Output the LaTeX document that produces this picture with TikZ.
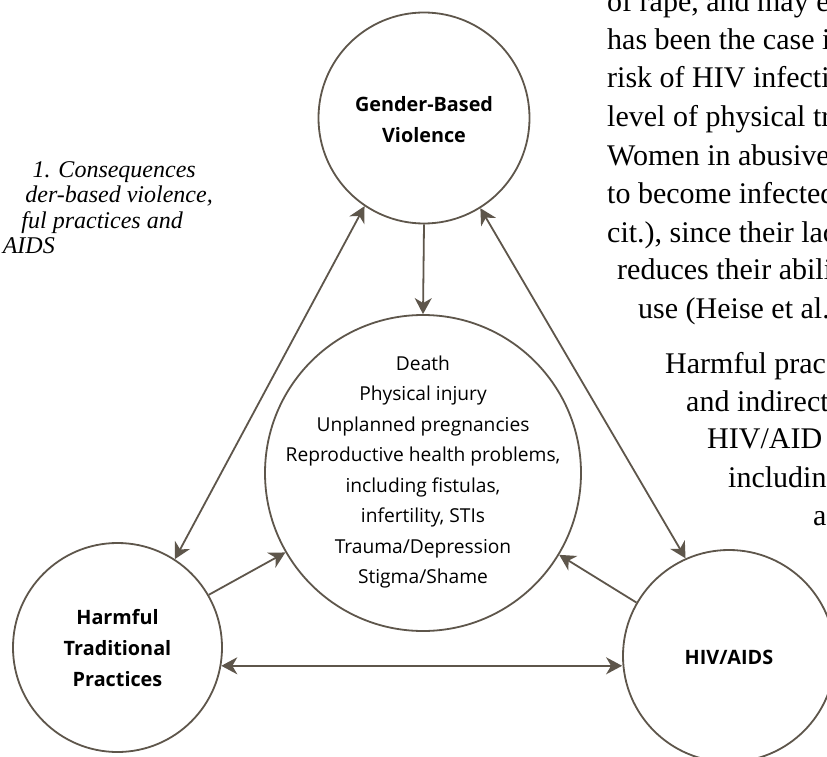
\documentclass[tikz,border=0pt]{standalone}
\usepackage{fontspec}
\setmainfont{Liberation Serif}
\newfontfamily\diag{Open Sans}
\usetikzlibrary{arrows.meta}
\definecolor{lc}{HTML}{5E564B}
\tikzset{
  bubble/.style={circle, draw=lc, line width=1.8pt, inner sep=0pt, align=center},
  lab/.style={font=\diag\bfseries\fontsize{19.8}{31}\selectfont, align=center},
  conn/.style={draw=lc, line width=1.8pt, -{Stealth[length=16pt,width=17pt,inset=5pt]}},
  bconn/.style={draw=lc, line width=1.8pt, {Stealth[length=16pt,width=17pt,inset=5pt]}-{Stealth[length=16pt,width=17pt,inset=5pt]}},
  body/.style={font=\fontsize{30}{38}\selectfont, anchor=base west, inner sep=0pt},
  capt/.style={font=\itshape\fontsize{24}{25}\selectfont, anchor=base east, inner sep=0pt}
}
\begin{document}
\begin{tikzpicture}[x=1pt,y=-1pt]
\useasboundingbox (0,0) rectangle (827,757);
\clip (0,0) rectangle (827,757);
\fill[white] (0,0) rectangle (827,757);

% circles
\node[bubble, minimum size=211pt] (gbv) at (424,118) {};
\node[lab] (gbvt) at (424,120) {Gender-Based\\Violence};
\node[bubble, minimum size=316pt] (cen) at (423,473) {};
\node[font=\diag\fontsize{19.2}{30.5}\selectfont, align=center] (cent) at (423,472)
  {Death\\Physical injury\\Unplanned pregnancies\\Reproductive health problems,\\including fistulas,\\infertility, STIs\\Trauma/Depression\\Stigma/Shame};
\node[bubble, minimum size=209pt] (htp) at (117.5,647.5) {};
\node[lab] (htpt) at (117.5,648) {Harmful\\Traditional\\Practices};
\node[bubble, minimum size=212pt] (hiv) at (729,656) {};
\node[lab] (hivt) at (729,657) {HIV/AIDS};

% connectors
\draw[conn] (gbv.south) -- (cen.north);
\draw[bconn] (gbv.236) -- (htp.57);
\draw[bconn] (gbv.302) -- (hiv.114);
\draw[conn] (htp.30) -- (cen.210);
\draw[conn] (hiv.150) -- (cen.-31);
\coordinate (hl) at (htp.-10);
\draw[bconn] (hl) -- (hl -| hiv.west);

% caption (cropped)
\node[capt] (c1) at (196,177) {1. Consequences};
\node[capt] (c2) at (213,202) {der-based violence,};
\node[capt] (c3) at (183,228) {ful practices and};
\node[capt] (c4) at (55,253) {AIDS};

% body text (cropped)
\node[body] (b1) at (607,12) {of rape, and may e};
\node[body] (b2) at (607,50) {has been the case i};
\node[body] (b3) at (607,88) {risk of HIV infecti};
\node[body] (b4) at (607,127) {level of physical tra};
\node[body] (b5) at (607,165) {Women in abusive};
\node[body] (b6) at (607,203) {to become infected};
\node[body] (b7) at (607,242) {cit.), since their lac};
\node[body] (b8) at (617,279) {reduces their abilit};
\node[body] (b9) at (638,318) {use (Heise et al.,};
\node[body] (b10) at (665,373) {Harmful prac};
\node[body] (b11) at (686,411) {and indirect};
\node[body] (b12) at (707,448) {HIV/AID};
\node[body] (b13) at (728,487) {includin};
\node[body] (b14) at (813,525) {a};
\end{tikzpicture}
\end{document}
